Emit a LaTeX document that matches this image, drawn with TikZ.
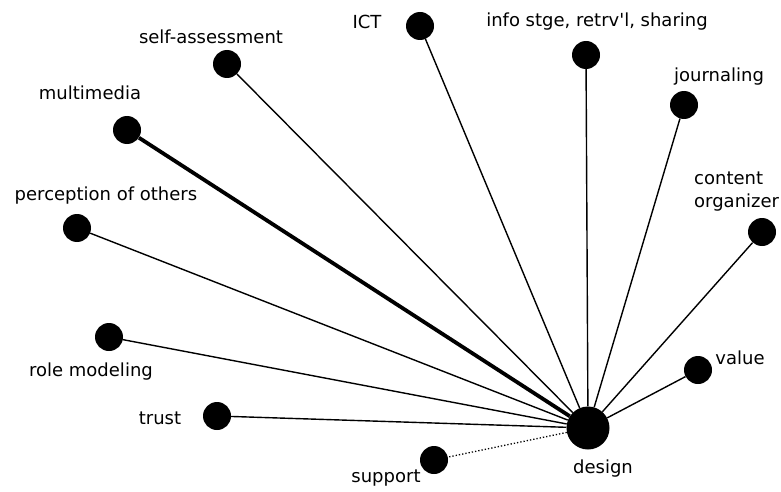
\documentclass[tikz,border=0pt]{standalone}
\usepackage{fontspec}
\setmainfont{DejaVu Sans}
\newfontfamily\lblfont{DejaVu Sans}
\begin{document}
\begin{tikzpicture}[x=1pt,y=-1pt,
  dot/.style={circle,fill=black,draw=none,minimum size=28pt,inner sep=0pt},
  bigdot/.style={circle,fill=black,draw=none,minimum size=43pt,inner sep=0pt},
  lbl/.style={inner sep=0pt,font=\lblfont\fontsize{18}{23}\selectfont},
  edge/.style={line width=1.4pt},
  thick edge/.style={line width=3.8pt},
  dot edge/.style={line width=1.3pt,dotted}]
\useasboundingbox (0,0) rectangle (781,492);
% nodes
\node[bigdot] (design) at (588,428) {};
\node[dot] (support) at (434,460) {};
\node[dot] (self) at (227,64) {};
\node[dot] (multi) at (127,130) {};
\node[dot] (perc) at (77,228) {};
\node[dot] (ict) at (420,26) {};
\node[dot] (info) at (586,55) {};
\node[dot] (journ) at (684,105) {};
\node[dot] (content) at (762,232) {};
\node[dot] (role) at (109,337) {};
\node[dot] (trust) at (217,416) {};
\node[dot] (value) at (698,370) {};
% connectors
\draw[edge] (design) -- (self);
\draw[thick edge] (design) -- (multi);
\draw[edge] (design) -- (perc);
\draw[edge] (design) -- (ict);
\draw[edge] (design) -- (info);
\draw[edge] (design) -- (journ);
\draw[edge] (design) -- (content);
\draw[edge] (design) -- (role);
\draw[edge] (design) -- (trust);
\draw[edge] (design) -- (value);
\draw[dot edge] (design) -- (support);
% labels
\node[lbl] (lself) at (211,37) {self-assessment};
\node[lbl] (lmulti) at (90,93) {multimedia};
\node[lbl] (lperc) at (106,196) {perception of others};
\node[lbl] (lict) at (367,22) {ICT};
\node[lbl] (linfo) at (597,22) {info stge, retrv'l, sharing};
\node[lbl] (ljourn) at (719,77) {journaling};
\node[lbl,align=left,anchor=west] (lcontent) at (694,192) {content\\organizer};
\node[lbl] (lrole) at (91,372) {role modeling};
\node[lbl] (ltrust) at (160,418) {trust};
\node[lbl] (lsupport) at (386,478) {support};
\node[lbl] (ldesign) at (603,469) {design};
\node[lbl] (lvalue) at (740,358) {value};
\end{tikzpicture}
\end{document}
